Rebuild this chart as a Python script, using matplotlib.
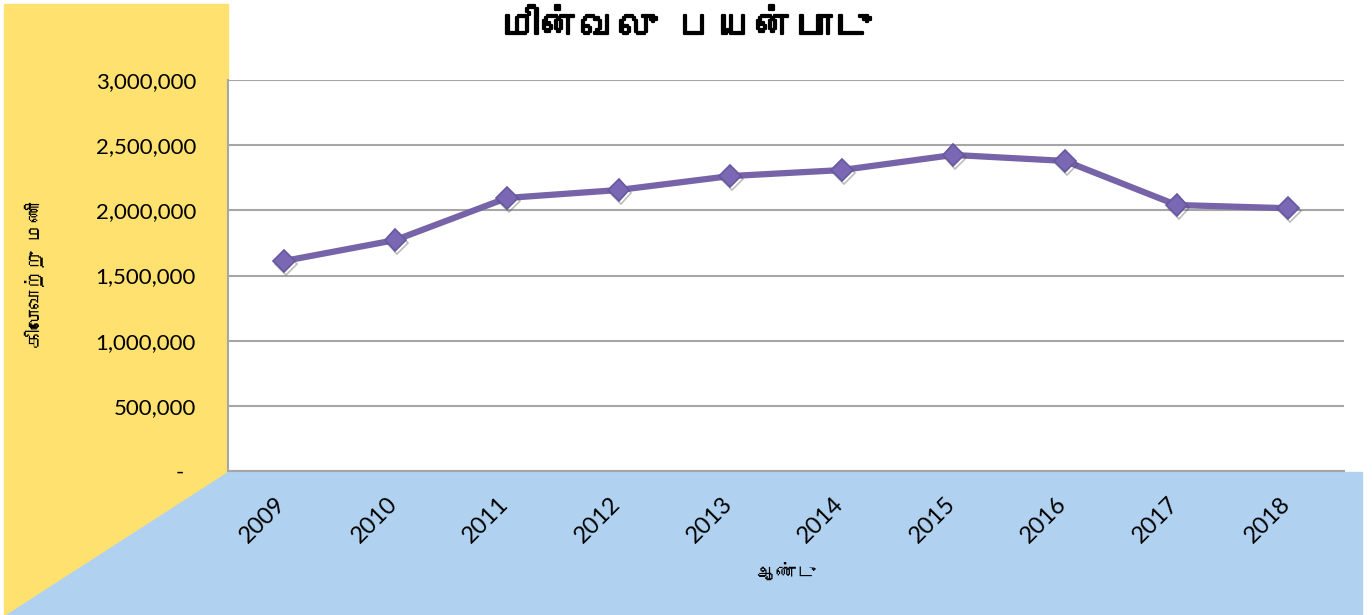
import matplotlib
matplotlib.use("Agg")
import matplotlib.pyplot as plt
import matplotlib.patheffects as pe
import matplotlib.transforms as mtransforms
from matplotlib import font_manager
from matplotlib.ft2font import FT2Font
from matplotlib.patches import Rectangle, Polygon
from matplotlib.ticker import FuncFormatter, MultipleLocator

years = ["2009", "2010", "2011", "2012", "2013", "2014", "2015", "2016", "2017", "2018"]
kwh = [1611000, 1772000, 2095000, 2156000, 2263000, 2309000, 2425000, 2379000, 2041000, 2016000]

title = "மின்வலு பயன்பாடு"
ylabel = "கிலோவாற்று மணி"
xlabel = "ஆண்டு"


def find_tamil_font():
    # look for any installed font that actually has Tamil glyphs
    for f in font_manager.fontManager.ttflist:
        try:
            ft = FT2Font(f.fname)
            if ft.get_char_index(0x0BAE) and ft.get_char_index(0x0BA9):
                return f.name
        except Exception:
            continue
    return None


tamil = find_tamil_font()
fam = [tamil, "DejaVu Sans"] if tamil else ["DejaVu Sans"]
plt.rcParams["font.family"] = ["Lato", "DejaVu Sans"]

W, H = 1372, 615
fig = plt.figure(figsize=(W / 100, H / 100), dpi=100, facecolor="white")

# coloured panels behind the chart
fig.patches.append(Rectangle((4 / W, 0), (228 - 4) / W, 1 - 4 / H,
                             transform=fig.transFigure, color="#FFE170", zorder=-2))
fig.patches.append(Polygon([(228 / W, 1 - 472 / H), (1362 / W, 1 - 472 / H),
                            (1362 / W, 0), (6 / W, 0)],
                           closed=True, transform=fig.transFigure,
                           color="#B0D2F0", zorder=-2))

ax = fig.add_axes([228 / W, 1 - 471 / H, (1344 - 228) / W, (471 - 80) / H])
ax.set_facecolor("white")

x = list(range(len(years)))
ax.plot(x, kwh, color="#7763A8", lw=4.5, solid_joinstyle="round", zorder=3)
ax.plot(x, kwh, ls="none", marker="D", ms=11,
        mfc="#7B68B4", mec="#6757A0", mew=1.2,
        path_effects=[pe.SimpleLineShadow(offset=(1.5, -2), shadow_color="#444444", alpha=0.35),
                      pe.Normal()], zorder=4)

ax.set_xlim(-0.5, len(years) - 0.5)
ax.set_ylim(0, 3000000)
ax.yaxis.set_major_locator(MultipleLocator(500000))
ax.yaxis.set_major_formatter(FuncFormatter(lambda v, p: "-  " if v == 0 else f"{int(v):,}"))
ax.grid(axis="y", color="#A6A6A6", lw=1.5)
ax.set_axisbelow(True)

ax.set_xticks(x)
ax.set_xticklabels(years, rotation=45, ha="right", rotation_mode="default")
ax.tick_params(axis="x", length=0, pad=16, labelsize=17)
ax.tick_params(axis="y", length=0, pad=23, labelsize=16)
shift = mtransforms.ScaledTranslation(6 / 100, 0, fig.dpi_scale_trans)
for lbl in ax.get_xticklabels():
    lbl.set_transform(lbl.get_transform() + shift)

for s in ["top", "right"]:
    ax.spines[s].set_visible(False)
for s in ["left", "bottom"]:
    ax.spines[s].set_color("#A6A6A6")
    ax.spines[s].set_linewidth(1.5)

fig.text(0.5, 1 - 27 / H, title, ha="center", va="center", fontsize=28,
         fontweight="bold", family=fam,
         path_effects=[pe.withStroke(linewidth=1.6, foreground="black")])
fig.text(35 / W, 1 - 275 / H, ylabel, rotation=90, ha="center", va="center",
         fontsize=14, family=fam)
fig.text(786 / W, 1 - 572 / H, xlabel, ha="center", va="center",
         fontsize=14, family=fam)

fig.savefig("out.png", dpi=100, facecolor="white")
